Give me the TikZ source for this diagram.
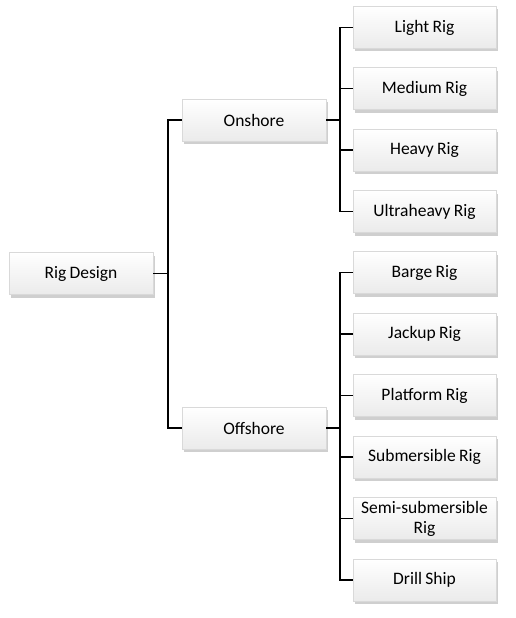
\documentclass[tikz,border=0pt]{standalone}
\usepackage{fontspec}
\setmainfont[WordSpace=0.85]{Carlito}
\usetikzlibrary{shadows}
\begin{document}
\begin{tikzpicture}[x=1pt,y=-1pt,
  box/.style={draw=gray!30, line width=0.5pt, top color=white, bottom color=gray!16,
    minimum height=42pt, align=center, inner sep=1pt,
    font=\fontsize{17.5}{20}\selectfont,
    drop shadow={shadow xshift=1.5pt, shadow yshift=-3pt, opacity=0.5, fill=gray!75}},
  rootbox/.style={box, minimum width=144pt},
  midbox/.style={box, minimum width=144pt},
  leafbox/.style={box, minimum width=143pt},
  conn/.style={line width=1.6pt, black}]
\useasboundingbox (0,0) rectangle (516,618);
\node[rootbox] (root) at (81,273.5) {Rig Design};
\node[midbox] (on) at (254,120) {Onshore};
\node[midbox] (off) at (254,428) {Offshore};
\node[leafbox] (l1) at (424.5,27.5) {Light Rig};
\node[leafbox] (l2) at (424.5,88.5) {Medium Rig};
\node[leafbox] (l3) at (424.5,150) {Heavy Rig};
\node[leafbox] (l4) at (424.5,211.5) {Ultraheavy Rig};
\node[leafbox] (f1) at (424.5,272.5) {Barge Rig};
\node[leafbox] (f2) at (424.5,334) {Jackup Rig};
\node[leafbox] (f3) at (424.5,395.5) {Platform Rig};
\node[leafbox] (f4) at (424.5,457) {Submersible Rig};
\node[leafbox] (f5) at (424.5,518.5) {Semi-submersible\\Rig};
\node[leafbox] (f6) at (424.5,580) {Drill Ship};
\coordinate (rb) at (168,0);
\coordinate (ob) at (340,0);
\draw[conn] (root.east) -- (root.east -| rb);
\draw[conn] (on.west) -- (on.west -| rb) -- (off.west -| rb) -- (off.west);
\foreach \c in {l1,l2,l3,l4} {\draw[conn] (\c.west) -- (\c.west -| ob) -- (on.east -| ob);}
\draw[conn] (on.east) -- (on.east -| ob);
\foreach \c in {f1,f2,f3,f4,f5,f6} {\draw[conn] (\c.west) -- (\c.west -| ob) -- (off.east -| ob);}
\draw[conn] (off.east) -- (off.east -| ob);
\end{tikzpicture}
\end{document}
